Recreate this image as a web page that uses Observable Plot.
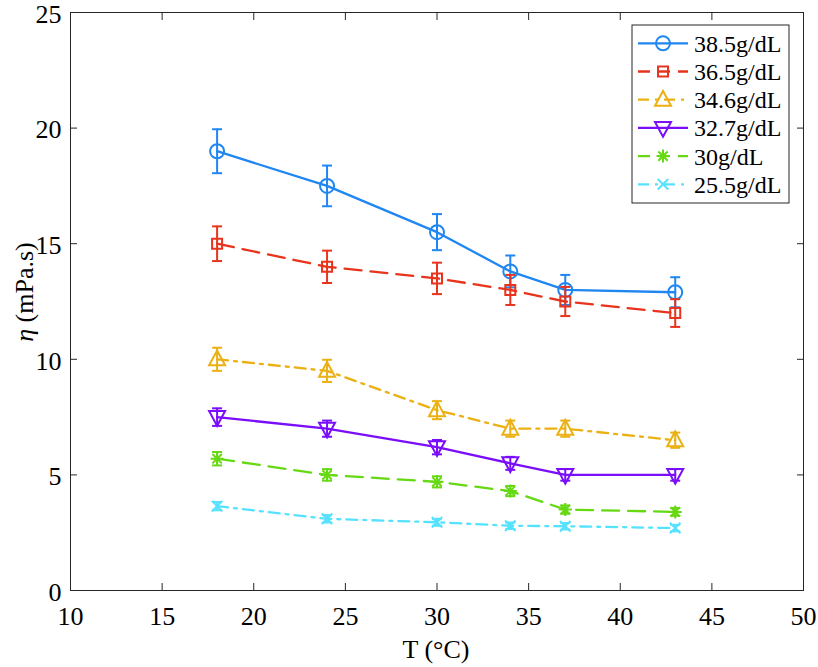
<!DOCTYPE html>
<html>
<head>
<meta charset="utf-8">
<script src="https://cdn.jsdelivr.net/npm/d3@7"></script>
<script src="https://cdn.jsdelivr.net/npm/@observablehq/plot@0.6"></script>
<style>
  html, body { margin: 0; padding: 0; background: #fff; }
  #chart { position: relative; width: 818px; height: 667px; }
</style>
</head>
<body>
<div id="chart"></div>
<script>
// ---- data ----
const temps = [18, 24, 30, 34, 37, 43];
const labels = ["38.5g/dL", "36.5g/dL", "34.6g/dL", "32.7g/dL", "30g/dL", "25.5g/dL"];
const v385 = [19.0, 17.5, 15.5, 13.8, 13.0, 12.9];
const e385 = [0.95, 0.88, 0.78, 0.69, 0.65, 0.65];
const v365 = [15.0, 14.0, 13.5, 13.0, 12.5, 12.0];
const e365 = [0.75, 0.70, 0.68, 0.65, 0.63, 0.60];
const v346 = [10.0, 9.5, 7.8, 7.0, 7.0, 6.5];
const e346 = [0.50, 0.48, 0.39, 0.35, 0.35, 0.33];
const v327 = [7.5, 7.0, 6.2, 5.5, 5.0, 5.0];
const e327 = [0.38, 0.35, 0.31, 0.28, 0.25, 0.25];
const v300 = [5.7, 5.0, 4.7, 4.3, 3.5, 3.4];
const e300 = [0.29, 0.25, 0.24, 0.22, 0.18, 0.17];
const v255 = [3.65, 3.1, 2.95, 2.8, 2.78, 2.7];
const e255 = [0.18, 0.16, 0.15, 0.14, 0.14, 0.14];
const xTicks = [10, 15, 20, 25, 30, 35, 40, 45, 50];
const yTicks = [0, 5, 10, 15, 20, 25];

// ---- symbols ----
const sym = {
  circle: {draw(c, s) { const r = Math.sqrt(s / Math.PI); c.moveTo(r, 0); c.arc(0, 0, r, 0, 2 * Math.PI); }},
  square: {draw(c, s) { const r = Math.sqrt(s / Math.PI); c.rect(-r, -r, 2 * r, 2 * r); }},
  triUp: {draw(c, s) { const r = Math.sqrt(s / Math.PI); c.moveTo(0, -r * 1.1); c.lineTo(r, r * 0.75); c.lineTo(-r, r * 0.75); c.closePath(); }},
  triDown: {draw(c, s) { const r = Math.sqrt(s / Math.PI); c.moveTo(0, r * 1.1); c.lineTo(r, -r * 0.75); c.lineTo(-r, -r * 0.75); c.closePath(); }},
  asterisk: {draw(c, s) { const r = Math.sqrt(s / Math.PI), q = r * 0.72;
    c.moveTo(-r, 0); c.lineTo(r, 0); c.moveTo(0, -r); c.lineTo(0, r);
    c.moveTo(-q, -q); c.lineTo(q, q); c.moveTo(-q, q); c.lineTo(q, -q); }},
  times: {draw(c, s) { const r = Math.sqrt(s / Math.PI) * 0.75;
    c.moveTo(-r, -r); c.lineTo(r, r); c.moveTo(-r, r); c.lineTo(r, -r); }},
  cap: {draw(c, s) { const r = Math.sqrt(s / Math.PI); c.moveTo(-r, 0); c.lineTo(r, 0); }}
};

const dashed = "17,9";
const dashDot = "11,6,3,6";
const series = [
  {label: labels[0], v: v385, e: e385, color: "#1f86f2", dash: null, symbol: sym.circle, r: 7},
  {label: labels[1], v: v365, e: e365, color: "#e8341c", dash: dashed, symbol: sym.square, r: 5},
  {label: labels[2], v: v346, e: e346, color: "#ebb012", dash: dashDot, symbol: sym.triUp, r: 8},
  {label: labels[3], v: v327, e: e327, color: "#7a0dfa", dash: null, symbol: sym.triDown, r: 8},
  {label: labels[4], v: v300, e: e300, color: "#66d912", dash: dashed, symbol: sym.asterisk, r: 6.5},
  {label: labels[5], v: v255, e: e255, color: "#55e2ff", dash: dashDot, symbol: sym.times, r: 7}
];

const lw = 2.3;
const marks = [];
for (const s of series) {
  const rows = temps.map((t, i) => ({t, y: s.v[i], lo: s.v[i] - s.e[i], hi: s.v[i] + s.e[i]}));
  marks.push(Plot.line(rows, {x: "t", y: "y", stroke: s.color, strokeWidth: lw, strokeDasharray: s.dash}));
  marks.push(Plot.ruleX(rows, {x: "t", y1: "lo", y2: "hi", stroke: s.color, strokeWidth: 2}));
  marks.push(Plot.dot(rows, {x: "t", y: "lo", symbol: sym.cap, r: 5, stroke: s.color, strokeWidth: 2, fill: "none"}));
  marks.push(Plot.dot(rows, {x: "t", y: "hi", symbol: sym.cap, r: 5, stroke: s.color, strokeWidth: 2, fill: "none"}));
  marks.push(Plot.dot(rows, {x: "t", y: "y", symbol: s.symbol, r: s.r, stroke: s.color, strokeWidth: 2, fill: "none"}));
}

const axisColor = "#262626";
const fam = "'Liberation Serif', 'Times New Roman', serif";
const blank = () => "";
const svg = Plot.plot({
  width: 818,
  height: 667,
  marginLeft: 70,
  marginRight: 15,
  marginTop: 12,
  marginBottom: 77,
  style: {fontFamily: fam, fontSize: "26px", color: "#000", background: "#fff"},
  x: {domain: [10, 50]},
  y: {domain: [0, 25]},
  marks: [
    ...marks,
    Plot.frame({stroke: axisColor, strokeWidth: 1}),
    // tick labels
    Plot.axisX({anchor: "bottom", ticks: xTicks, tickSize: 0, tickPadding: 16, fill: "#000", label: null}),
    Plot.axisY({anchor: "left", ticks: yTicks, tickSize: 0, tickPadding: 9, dy: 2, fill: "#000", label: null}),
    // inward ticks on all four sides
    Plot.axisX({anchor: "bottom", ticks: xTicks, tickSize: -7, tickFormat: blank, stroke: axisColor, label: null}),
    Plot.axisX({anchor: "top", ticks: xTicks, tickSize: -7, tickFormat: blank, stroke: axisColor, label: null}),
    Plot.axisY({anchor: "left", ticks: yTicks, tickSize: -7, tickFormat: blank, stroke: axisColor, label: null}),
    Plot.axisY({anchor: "right", ticks: yTicks, tickSize: -7, tickFormat: blank, stroke: axisColor, label: null})
  ]
});
document.getElementById("chart").appendChild(svg);

const root = d3.select(svg);
// axis labels
root.append("text")
  .attr("x", 436).attr("y", 658)
  .attr("text-anchor", "middle")
  .attr("font-family", fam).attr("font-size", 26).attr("fill", "#000")
  .text("T (°C)");
const yl = root.append("text")
  .attr("transform", "translate(33,292) rotate(-90)")
  .attr("text-anchor", "middle")
  .attr("font-family", fam).attr("font-size", 26).attr("fill", "#000");
yl.append("tspan").attr("font-style", "italic").text("η");
yl.append("tspan").text(" (mPa.s)");

// legend
const lg = root.append("g");
lg.append("rect").attr("x", 632).attr("y", 25).attr("width", 157).attr("height", 178)
  .attr("fill", "#fff").attr("stroke", axisColor).attr("stroke-width", 1);
series.forEach((s, i) => {
  const cy = 43.3 + i * 28.2;
  lg.append("line").attr("x1", 638).attr("x2", 688).attr("y1", cy).attr("y2", cy)
    .attr("stroke", s.color).attr("stroke-width", lw).attr("stroke-dasharray", s.dash ? (s.dash === dashed ? "12,8" : "11,6,3,6") : null);
  lg.append("path").attr("transform", `translate(663,${cy})`)
    .attr("d", d3.symbol(s.symbol, s.r * s.r * Math.PI)())
    .attr("fill", "none").attr("stroke", s.color).attr("stroke-width", 2);
  lg.append("text").attr("x", 694).attr("y", cy).attr("dy", "0.35em")
    .attr("text-anchor", "start")
    .attr("font-family", fam).attr("font-size", 24).attr("fill", "#000")
    .text(s.label);
});
</script>
</body>
</html>
